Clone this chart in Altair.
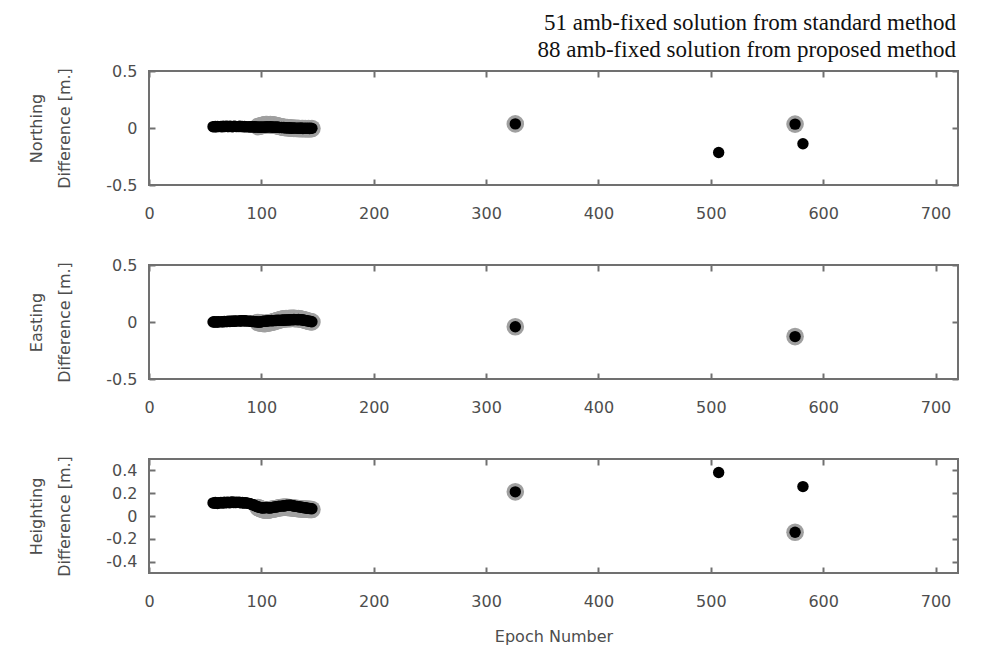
import altair as alt
import pandas as pd

# ---------------- data ----------------
prop_epoch = [57, 58, 59, 60, 61, 62,
              64, 65, 66, 67, 68, 69, 70, 71, 72, 73, 74, 75, 76, 77, 78,
              80, 81, 82, 83, 84, 85, 86, 87,
              89, 90, 91, 92, 93, 94, 95, 96, 97, 98, 99, 100,
              101, 102, 103, 104, 105, 106, 107, 108, 109, 110, 111, 112, 113, 114, 115, 116,
              118, 119, 120,
              121, 122, 123, 124, 125, 126, 127, 128, 129, 130,
              132, 133, 134, 135, 136, 137, 138, 139, 140,
              141, 142, 143, 144, 145,
              326, 507, 575, 582]

std_epoch = [97, 98, 99, 100, 101, 102, 103, 104, 105, 106, 107, 108, 109, 110,
             111, 112, 113, 114, 115, 116, 117, 118, 119, 120, 121, 122, 123, 124, 125,
             126, 127, 128, 129, 130, 131, 132, 133, 134, 135, 136, 137, 138, 139, 140,
             141, 142, 143, 144, 145,
             326, 575]

north_prop = [0.012, 0.010, 0.013, 0.011, 0.014, 0.012,
              0.013, 0.011, 0.015, 0.012, 0.014, 0.016, 0.013, 0.012, 0.015, 0.014, 0.011, 0.013, 0.016, 0.014, 0.012,
              0.013, 0.015, 0.012, 0.014, 0.011, 0.013, 0.012, 0.010,
              0.011, 0.009, 0.012, 0.010, 0.008, 0.011, 0.009, 0.010, 0.008, 0.007, 0.009, 0.006,
              0.008, 0.010, 0.007, 0.009, 0.011, 0.008, 0.010, 0.012, 0.009, 0.007, 0.010, 0.008, 0.006, 0.009, 0.007, 0.005,
              0.004, 0.003, 0.005,
              0.002, 0.001, 0.003, -0.001, 0.002, 0.000, -0.002, 0.001, -0.001, 0.000,
              -0.002, -0.001, -0.003, 0.000, -0.002, -0.004, -0.001, -0.003, -0.002,
              -0.003, -0.001, -0.004, -0.002, -0.003,
              0.036, -0.215, 0.034, -0.138]

north_std = [0.012, 0.015, 0.018, 0.021, 0.024, 0.026, 0.028, 0.030, 0.031, 0.029, 0.027, 0.030, 0.028, 0.025,
             0.027, 0.024, 0.022, 0.020, 0.017, 0.015, 0.012, 0.010, 0.008, 0.006, 0.005, 0.003, 0.004, 0.002, 0.001,
             0.000, -0.002, -0.001, -0.003, -0.002, -0.004, -0.003, -0.005, -0.004, -0.006, -0.005, -0.004, -0.006,
             -0.005, -0.007, -0.006, -0.005, -0.007, -0.006, -0.005,
             0.036, 0.034]

east_prop = [0.000, 0.002, -0.001, 0.001, 0.000, 0.002,
             0.001, 0.003, 0.002, 0.004, 0.003, 0.005, 0.004, 0.006, 0.005, 0.007, 0.006, 0.008, 0.007, 0.009, 0.008,
             0.010, 0.009, 0.011, 0.010, 0.012, 0.011, 0.010, 0.009,
             0.008, 0.007, 0.006, 0.005, 0.004, 0.003, 0.002, 0.001, 0.000, -0.001, 0.000, 0.002,
             0.004, 0.006, 0.008, 0.007, 0.009, 0.011, 0.010, 0.012, 0.013, 0.011, 0.012, 0.014, 0.013, 0.015, 0.014, 0.016,
             0.015, 0.017, 0.016,
             0.018, 0.017, 0.019, 0.018, 0.020, 0.019, 0.021, 0.020, 0.022, 0.021,
             0.020, 0.022, 0.021, 0.019, 0.020, 0.018, 0.016, 0.014, 0.012,
             0.010, 0.008, 0.006, 0.004, 0.002,
             -0.042, None, -0.128, None]

east_std = [-0.004, -0.006, -0.008, -0.010, -0.012, -0.013, -0.014, -0.012, -0.010, -0.008, -0.006, -0.004, -0.002, 0.000,
            0.003, 0.006, 0.009, 0.012, 0.015, 0.018, 0.021, 0.023, 0.025, 0.027, 0.028, 0.030, 0.029, 0.031, 0.030,
            0.032, 0.031, 0.033, 0.032, 0.030, 0.031, 0.029, 0.030, 0.028, 0.026, 0.024, 0.022, 0.019, 0.016,
            0.013, 0.010, 0.007, 0.005, 0.003, 0.001,
            -0.042, -0.128]

height_prop = [0.115, 0.112, 0.118, 0.114, 0.110, 0.116,
               0.119, 0.113, 0.117, 0.121, 0.115, 0.118, 0.122, 0.119, 0.116, 0.120, 0.123, 0.118, 0.121, 0.117, 0.120,
               0.122, 0.118, 0.115, 0.119, 0.116, 0.113, 0.117, 0.114,
               0.111, 0.108, 0.104, 0.100, 0.096, 0.092, 0.088, 0.084, 0.080, 0.077, 0.074, 0.072,
               0.070, 0.071, 0.073, 0.075, 0.074, 0.072, 0.070, 0.071, 0.073, 0.076, 0.078, 0.080, 0.079, 0.081, 0.083, 0.085,
               0.087, 0.089, 0.088,
               0.090, 0.092, 0.094, 0.093, 0.095, 0.094, 0.092, 0.090, 0.088, 0.086,
               0.084, 0.082, 0.080, 0.078, 0.077, 0.075, 0.073, 0.072, 0.070,
               0.068, 0.067, 0.066, 0.065, 0.064,
               0.212, 0.382, -0.142, 0.258]

height_std = [0.075, 0.070, 0.066, 0.062, 0.058, 0.055, 0.053, 0.051, 0.050, 0.052, 0.054, 0.056, 0.058, 0.060,
              0.062, 0.064, 0.066, 0.068, 0.070, 0.072, 0.074, 0.075, 0.076, 0.077, 0.078, 0.077, 0.076, 0.075, 0.074,
              0.073, 0.072, 0.070, 0.069, 0.068, 0.067, 0.066, 0.065, 0.064, 0.063, 0.062, 0.061, 0.060, 0.060,
              0.059, 0.059, 0.058, 0.058, 0.057, 0.057,
              0.212, -0.142]

x_ticks = [0, 100, 200, 300, 400, 500, 600, 700]
y_ticks_ne = [-0.5, 0, 0.5]
y_ticks_h = [-0.4, -0.2, 0, 0.2, 0.4]

legend_lines = ["51 amb-fixed solution from standard method",
                "88 amb-fixed solution from proposed method"]

# ---------------- style ----------------
FRAME = "#707070"
LABEL = "#4d4d4d"
HALO = "#a0a0a0"
W, H = 809, 114


def panel(prop_y, std_y, ytitle, yticks, last):
    pdf = pd.DataFrame({"epoch": prop_epoch, "diff": prop_y}).dropna()
    sdf = pd.DataFrame({"epoch": std_epoch, "diff": std_y}).dropna()
    xs = alt.Scale(domain=[0, 720], nice=False, zero=False)
    ys = alt.Scale(domain=[-0.5, 0.5], nice=False, zero=False)

    xaxis_kw = dict(orient="bottom", values=x_ticks, ticks=False, domain=False,
                    grid=False, labelPadding=20, labelFlush=False)
    if last:
        xaxis_kw.update(title="Epoch Number", titlePadding=19)
    else:
        xaxis_kw.update(title=None)
    xaxis = alt.Axis(**xaxis_kw)
    yaxis = alt.Axis(orient="left", values=yticks, ticks=False, domain=False, grid=False,
                     labelExpr="'' + datum.value", labelPadding=12,
                     title=ytitle, titlePadding=33, titleLineHeight=28)

    gray = alt.Chart(sdf).mark_circle(size=310, color=HALO, opacity=1).encode(
        x=alt.X("epoch:Q", scale=xs, axis=xaxis),
        y=alt.Y("diff:Q", scale=ys, axis=yaxis),
    )
    black = alt.Chart(pdf).mark_circle(size=130, color="black", opacity=1).encode(
        x=alt.X("epoch:Q", scale=xs, axis=None),
        y=alt.Y("diff:Q", scale=ys, axis=None),
    )
    tick_bl = alt.Chart(pdf).mark_circle(opacity=0).encode(
        x=alt.X("epoch:Q", scale=xs,
                axis=alt.Axis(orient="bottom", offset=-6, values=x_ticks, labels=False,
                              domain=False, ticks=True, tickSize=6, grid=False, title=None)),
        y=alt.Y("diff:Q", scale=ys,
                axis=alt.Axis(orient="left", offset=-6, values=yticks, labels=False,
                              domain=False, ticks=True, tickSize=6, grid=False, title=None)),
    )
    tick_tr = alt.Chart(pdf).mark_circle(opacity=0).encode(
        x=alt.X("epoch:Q", scale=xs,
                axis=alt.Axis(orient="top", offset=-6, values=x_ticks, labels=False,
                              domain=False, ticks=True, tickSize=6, grid=False, title=None)),
        y=alt.Y("diff:Q", scale=ys,
                axis=alt.Axis(orient="right", offset=-6, values=yticks, labels=False,
                              domain=False, ticks=True, tickSize=6, grid=False, title=None)),
    )
    return (alt.layer(gray, black, tick_bl, tick_tr)
            .resolve_axis(x="independent", y="independent")
            .properties(width=W, height=H))


p1 = panel(north_prop, north_std, ["Northing", "Difference [m.]"], y_ticks_ne, False)
p2 = panel(east_prop, east_std, ["Easting", "Difference [m.]"], y_ticks_ne, False)
p3 = panel(height_prop, height_std, ["Heighting", "Difference [m.]"], y_ticks_h, True)

top_two = alt.vconcat(p1, p2, spacing=34)

chart = (
    alt.vconcat(top_two, p3, spacing=38)
    .properties(
        title=alt.TitleParams(text=legend_lines, anchor="end", font="Liberation Serif",
                              fontSize=23, fontWeight="normal", color="#111111",
                              lineHeight=27, offset=0, dx=-4),
        padding={"left": 19, "top": 4, "right": 12, "bottom": 5},
        background="white",
    )
    .configure_view(stroke=FRAME, strokeWidth=2)
    .configure_axis(labelFont="DejaVu Sans", labelFontSize=16, labelColor=LABEL,
                    titleFont="DejaVu Sans", titleFontSize=16, titleColor=LABEL,
                    titleFontWeight="normal", tickColor=FRAME, tickWidth=2)
)

chart.save("out.html", embed_options={"renderer": "svg", "actions": False})
